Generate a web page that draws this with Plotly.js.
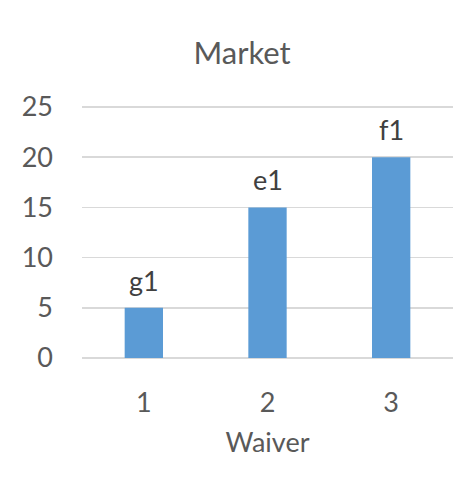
<!DOCTYPE html>
<html>
<head>
<meta charset="utf-8">
<script src="https://cdn.plot.ly/plotly-3.0.1.min.js"></script>
<style>html,body{margin:0;padding:0;background:#fff;}#chart{width:471px;height:484px;}</style>
</head>
<body>
<div id="chart"></div>
<script>
const categories = [1, 2, 3];
const values = [5, 15, 20];
const labels = ["g1", "e1", "f1"];
const yTicks = [0, 5, 10, 15, 20, 25];

const FONT = "Lato, 'Open Sans', sans-serif";
const TXT = "#595959";

const trace = {
  type: "bar",
  x: categories,
  y: values,
  marker: {color: "#5B9BD5"},
  width: 0.31,
  hoverinfo: "none"
};

const annotations = categories.map((c, i) => ({
  x: c, y: values[i], xref: "x", yref: "y",
  text: labels[i], showarrow: false,
  xanchor: "center", yanchor: "bottom", yshift: 9,
  font: {family: FONT, size: 27, color: "#404040"}
}));

const layout = {
  width: 471,
  height: 484,
  margin: {l: 82, r: 18, t: 104, b: 126},
  paper_bgcolor: "#fff",
  plot_bgcolor: "#fff",
  showlegend: false,
  annotations: annotations,
  title: {
    text: "Market",
    font: {family: FONT, size: 31, color: TXT},
    xref: "container", x: 0.514, xanchor: "center",
    yref: "container", y: 0.89, yanchor: "middle"
  },
  xaxis: {
    tickmode: "array",
    tickvals: categories,
    ticktext: categories.map(String),
    range: [0.5, 3.5],
    showgrid: false,
    zeroline: false,
    showline: false,
    ticks: "",
    ticklabelstandoff: 26,
    tickfont: {family: FONT, size: 27, color: TXT},
    title: {text: "Waiver", font: {family: FONT, size: 27, color: TXT}, standoff: 16}
  },
  yaxis: {
    range: [0, 25.3],
    tickmode: "array",
    tickvals: yTicks,
    ticktext: yTicks.map(String),
    showgrid: true,
    gridcolor: "#D9D9D9",
    gridwidth: 1.5,
    zeroline: true,
    zerolinecolor: "#D9D9D9",
    zerolinewidth: 1.5,
    showline: false,
    ticks: "",
    ticklabelstandoff: 28,
    tickfont: {family: FONT, size: 27, color: TXT}
  }
};

Plotly.newPlot("chart", [trace], layout, {displayModeBar: false, staticPlot: true});
</script>
</body>
</html>
